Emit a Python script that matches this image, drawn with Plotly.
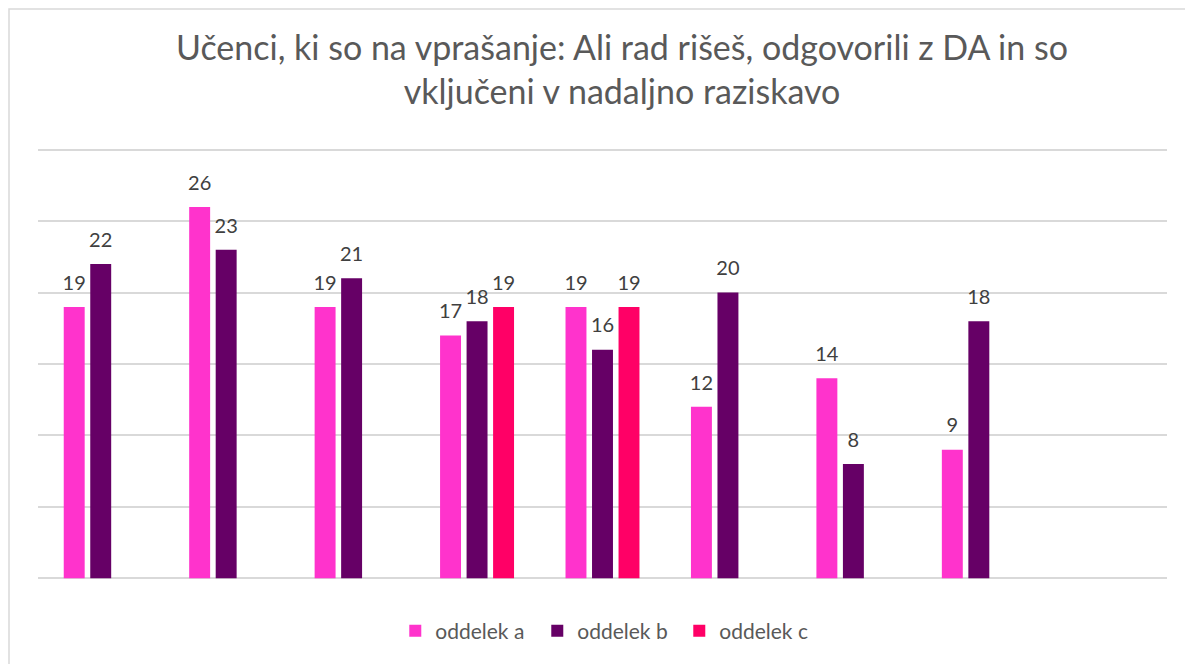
import plotly.graph_objects as go

categories = ["1", "2", "3", "4", "5", "6", "7", "8", "9"]
oddelek_a = [19, 26, 19, 17, 19, 12, 14, 9, None]
oddelek_b = [22, 23, 21, 18, 16, 20, 8, 18, None]
oddelek_c = [None, None, None, 19, 19, None, None, None, None]
series_names = ["oddelek a", "oddelek b", "oddelek c"]
colors = ["#FF33CC", "#660066", "#FF0066"]
title_text = "Učenci, ki so na vprašanje: Ali rad rišeš, odgovorili z DA in so<br>vključeni v nadaljno raziskavo"

FONT = "Lato, Carlito, Calibri, sans-serif"
W, H = 1185, 656  # page body has an 8px margin
ML, MR, MT, MB = 30, 26, 139, 83
PW, PH = W - ML - MR, H - MT - MB

fig = go.Figure()
for name, vals, col in zip(series_names, [oddelek_a, oddelek_b, oddelek_c], colors):
    fig.add_trace(go.Bar(
        x=categories, y=vals, name=name,
        offsetgroup=name, alignmentgroup="g",
        marker=dict(color=col, line=dict(width=0)),
        hoverinfo="x+y+name",
    ))
for name, vals in zip(series_names, [oddelek_a, oddelek_b, oddelek_c]):
    fig.add_trace(go.Scatter(
        x=categories, y=vals, mode="markers+text", name=name + " label",
        offsetgroup=name, alignmentgroup="s", showlegend=False, hoverinfo="skip",
        marker=dict(size=18, opacity=0),
        text=[("" if v is None else str(v)) for v in vals],
        textposition="top center", cliponaxis=False,
        textfont=dict(size=20, color="#404040", family=FONT),
    ))

fig.update_layout(
    width=W, height=H,
    margin=dict(l=ML, r=MR, t=MT, b=MB, autoexpand=False),
    paper_bgcolor="white", plot_bgcolor="white",
    barmode="group", bargap=0.366, bargroupgap=0.21,
    scattermode="group", scattergap=0.366,
    title=dict(text=title_text, x=614 / W, xref="container", xanchor="center",
               y=1 - 52 / H, yref="container", yanchor="top",
               font=dict(size=34, color="#595959", family=FONT)),
    font=dict(family=FONT, color="#595959"),
    legend=dict(orientation="h", x=375 / W, xanchor="left",
                yref="container", y=1 - 623 / H, yanchor="middle",
                font=dict(size=21, color="#595959", family=FONT),
                entrywidth=97, entrywidthmode="pixels",
                traceorder="normal"),
    xaxis=dict(showticklabels=False, showgrid=False, zeroline=False,
               range=[-0.5, 8.5], ticks=""),
    yaxis=dict(range=[-0.2, 30.2], dtick=5, tick0=0, showticklabels=False, showgrid=True,
               gridcolor="#D9D9D9", gridwidth=1.5, zeroline=False, ticks=""),
    shapes=[dict(type="rect", xref="paper", yref="paper",
                 x0=(1 - ML) / PW, x1=1.1, y0=-0.3, y1=1 + (MT - 1) / PH,
                 line=dict(color="#D9D9D9", width=1.5), fillcolor="rgba(0,0,0,0)",
                 layer="below")],
)

fig.write_html("out.html")
